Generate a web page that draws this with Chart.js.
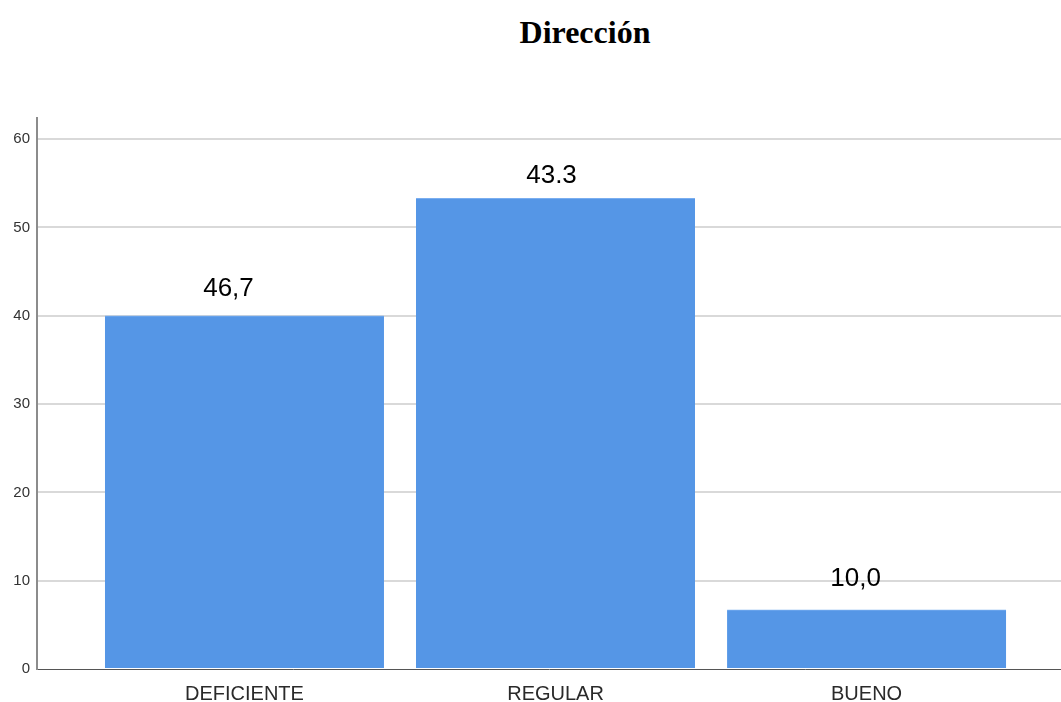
<!DOCTYPE html>
<html lang="es">
<head>
<meta charset="utf-8">
<title>Dirección</title>
<script src="https://cdn.jsdelivr.net/npm/chart.js@4.4.1/dist/chart.umd.min.js"></script>
<style>
  html, body { margin: 0; padding: 0; background: #ffffff; }
  #wrap { position: relative; width: 1061px; height: 702px; }
  #title {
    position: absolute; left: 585px; top: 12px; transform: translateX(-50%);
    margin: 0; font-family: "Liberation Serif", "Times New Roman", serif;
    font-weight: bold; font-size: 32px; line-height: 40px; color: #000; white-space: nowrap;
  }
  canvas { position: absolute; left: 0; top: 0; }
</style>
</head>
<body>
<div id="wrap">
  <h1 id="title">Dirección</h1>
  <canvas id="chart" width="1061" height="702"></canvas>
</div>
<script>
// Categories and bar heights
const categories = ['DEFICIENTE', 'REGULAR', 'BUENO'];
const barValues = [40.0, 53.3, 6.7];
// Text printed above each bar
const barLabels = ['46,7', '43.3', '10,0'];
// Value axis ticks
const yTicks = [0, 10, 20, 30, 40, 50, 60];

const points = categories.map((c, i) => ({ x: i, y: barValues[i] }));

// Draws the text above each bar, nudged by a small per-bar offset
const barLabelPlugin = {
  id: 'barLabels',
  afterDatasetsDraw(chart, args, opts) {
    const ctx = chart.ctx;
    const meta = chart.getDatasetMeta(0);
    const nudges = opts.nudges || [];
    ctx.save();
    ctx.font = '26px "Liberation Sans", Arial, sans-serif';
    ctx.fillStyle = '#000000';
    ctx.textAlign = 'center';
    ctx.textBaseline = 'alphabetic';
    meta.data.forEach((bar, i) => {
      const n = nudges[i] || { dx: 0, dy: 20 };
      ctx.fillText(barLabels[i], bar.x + n.dx, bar.y - n.dy);
    });
    ctx.restore();
  }
};

new Chart(document.getElementById('chart'), {
  type: 'bar',
  data: {
    datasets: [{
      data: points,
      backgroundColor: '#5596e6',
      borderColor: '#7aaef0',
      borderWidth: { top: 1, left: 0, right: 0, bottom: 0 },
      barThickness: 279
    }]
  },
  options: {
    responsive: false,
    animation: false,
    layout: { padding: { top: 118, right: 0, left: 0, bottom: 0 } },
    plugins: {
      legend: { display: false },
      tooltip: { enabled: false },
      barLabels: {
        nudges: [{ dx: -16, dy: 20 }, { dx: -4, dy: 15 }, { dx: -11, dy: 24 }]
      }
    },
    scales: {
      x: {
        type: 'linear',
        offset: false,
        min: -0.667,
        max: 2.625,
        afterBuildTicks(axis) { axis.ticks = categories.map((c, i) => ({ value: i })); },
        afterFit(axis) { axis.height = 33; },
        grid: { display: false, drawTicks: false, offset: false },
        border: { display: true, color: '#555555', width: 1 },
        ticks: {
          padding: 13,
          color: '#2a2a2a',
          font: { family: '"Liberation Sans", Arial, sans-serif', size: 20 },
          callback: (v) => categories[v] ?? ''
        }
      },
      y: {
        min: 0,
        max: 62.4,
        afterBuildTicks(axis) { axis.ticks = yTicks.map(v => ({ value: v })); },
        afterFit(axis) { axis.width = 37; },
        grid: {
          drawTicks: false,
          lineWidth: 2,
          color: (c) => (c.tick && c.tick.value === 0) ? 'rgba(0,0,0,0)' : '#d9d9d9'
        },
        border: { display: true, color: '#8c8c8c', width: 2 },
        ticks: {
          padding: 7,
          color: '#333333',
          font: { family: '"Liberation Sans", Arial, sans-serif', size: 15 }
        }
      }
    }
  },
  plugins: [barLabelPlugin]
});
</script>
</body>
</html>
